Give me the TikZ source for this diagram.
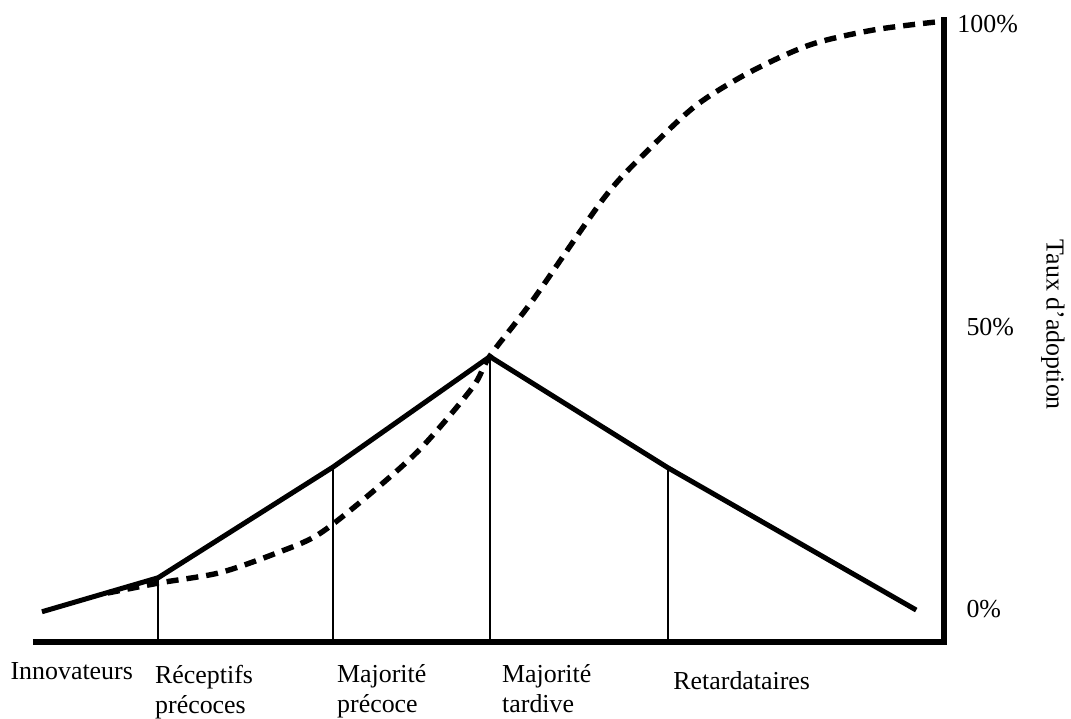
\documentclass[tikz,border=0pt]{standalone}
\usepackage{fontspec}
\setmainfont{Liberation Serif}
\usetikzlibrary{positioning}

\begin{document}
\begin{tikzpicture}[x=1cm,y=1cm]
\tikzset{
  axisline/.style={draw=black,line width=2.8bp,line join=miter},
  adoptcurve/.style={draw=black,line width=2.5bp,line join=miter},
  cumulcurve/.style={draw=black,line width=2.7bp,dash pattern=on 6bp off 4bp},
  divider/.style={draw=black,line width=1bp},
  catlabel/.style={anchor=base west,inner sep=0pt,align=left,font=\fontsize{13}{15}\selectfont},
  pctlabel/.style={anchor=base west,inner sep=0pt,font=\fontsize{13}{15}\selectfont}
}
\useasboundingbox (0,0) rectangle (18.89,12.68);
\coordinate (x_start) at (0.58,1.36);
\coordinate (o) at (16.65,1.36);
\coordinate (y_top) at (16.65,12.38);
\coordinate (k0) at (0.74,1.89);
\coordinate (k1) at (2.79,2.49);
\coordinate (k2) at (5.87,4.44);
\coordinate (k3) at (8.64,6.39);
\coordinate (k4) at (11.78,4.43);
\coordinate (k5) at (16.16,1.92);
% labels under the axis (base = last line)
\node[catlabel] (l_innov) at (0.18,0.69) {Innovateurs};
\node[catlabel] (l_recep) at (2.73,0.09) {Réceptifs\\précoces};
\node[catlabel] (l_majp) at (5.94,0.11) {Majorité\\précoce};
\node[catlabel] (l_majt) at (8.85,0.11) {Majorité\\tardive};
\node[catlabel] (l_retard) at (11.87,0.51) {Retardataires};
\node[pctlabel] (p100) at (16.88,12.10) {100\%};
\node[pctlabel] (p50) at (17.04,6.77) {50\%};
\node[pctlabel] (p0) at (17.04,1.78) {0\%};
\node[rotate=-90,inner sep=0pt,font=\fontsize{13}{15}\selectfont] (taux) at (18.57,6.95) {Taux d’adoption};
\draw[axisline] (x_start) -- (o) -- (y_top);
\draw[divider] (k1) -- (k1 |- o);
\draw[divider] (k2) -- (k2 |- o);
\draw[divider] (k3) -- (k3 |- o);
\draw[divider] (k4) -- (k4 |- o);
\draw[adoptcurve] (k0) -- (k1) -- (k2) -- (k3) -- (k4) -- (k5);
\draw[cumulcurve] plot[smooth,tension=0.5] coordinates {
  (1.90,2.22) (2.82,2.40) (3.88,2.58) (4.89,2.93) (5.61,3.25) (6.47,3.92)
  (7.41,4.76) (8.33,5.84) (8.64,6.40) (9.40,7.39) (10.67,9.21) (11.47,10.07)
  (12.29,10.83) (13.23,11.41) (14.29,11.89) (15.40,12.15) (16.49,12.29)};
\end{tikzpicture}
\end{document}
